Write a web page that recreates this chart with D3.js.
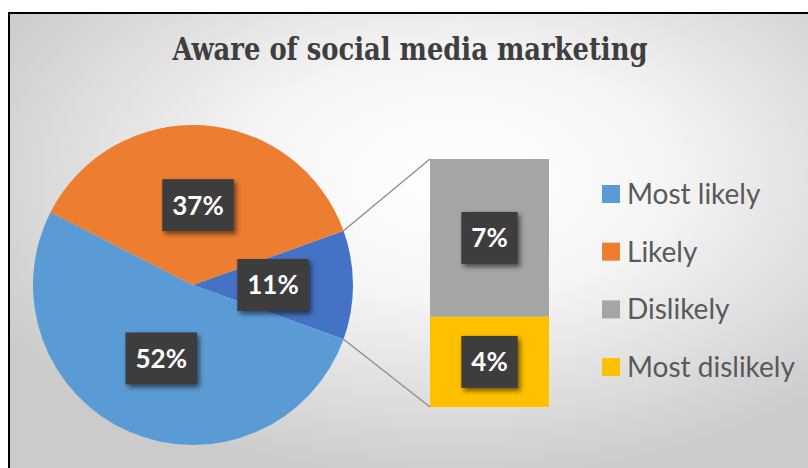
<!DOCTYPE html>
<html>
<head>
<meta charset="utf-8">
<script src="https://cdn.jsdelivr.net/npm/d3@7/dist/d3.min.js"></script>
<style>
  html, body { margin: 0; padding: 0; background: #fff; }
  svg { display: block; }
</style>
</head>
<body>
<svg id="chart" width="808" height="468"></svg>
<script>
// Pie slices (the "Other" slice is broken out into the stacked bar)
const pieLabels = ["Other", "Most likely", "Likely"];
const pieValues = [11, 52, 37];
const pieColors = ["#4472c4", "#5b9bd5", "#ed7d31"];

// Breakdown of "Other" shown as a stacked bar (top to bottom)
const barLabels = ["Dislikely", "Most dislikely"];
const barValues = [7, 4];
const barColors = ["#a5a5a5", "#ffc000"];

// Legend entries
const legendLabels = ["Most likely", "Likely", "Dislikely", "Most dislikely"];
const legendColors = ["#5b9bd5", "#ed7d31", "#a5a5a5", "#ffc000"];

const title = "Aware of social media marketing";

const svg = d3.select("#chart");
const defs = svg.append("defs");

// Soft radial backdrop
const bg = defs.append("radialGradient").attr("id", "bgGrad")
  .attr("cx", "0.55").attr("cy", "0.35").attr("r", "0.65");
bg.append("stop").attr("offset", "0").attr("stop-color", "#ffffff");
bg.append("stop").attr("offset", "0.4").attr("stop-color", "#f5f5f5");
bg.append("stop").attr("offset", "1").attr("stop-color", "#cbcbcb");

const shadow = defs.append("filter").attr("id", "shadow")
  .attr("x", "-30%").attr("y", "-30%").attr("width", "170%").attr("height", "170%");
shadow.append("feDropShadow").attr("dx", 2.5).attr("dy", 3).attr("stdDeviation", 2.5)
  .attr("flood-color", "#000").attr("flood-opacity", 0.55);

svg.append("rect").attr("x", 9).attr("y", 13).attr("width", 810).attr("height", 470)
  .attr("fill", "url(#bgGrad)").attr("stroke", "#000").attr("stroke-width", 2);

svg.append("text")
  .attr("x", 410).attr("y", 60)
  .attr("text-anchor", "middle")
  .attr("font-family", "'DejaVu Serif', serif")
  .attr("font-stretch", "condensed")
  .attr("font-weight", "bold")
  .attr("font-size", 32)
  .attr("textLength", 475).attr("lengthAdjust", "spacingAndGlyphs")
  .attr("fill", "#3f3f3f")
  .text(title);

// ---- Pie ----
const cx = 193, cy = 285, R = 160;
const total = d3.sum(pieValues);
const otherFrac = pieValues[0] / total;
const pie = d3.pie().sort(null).value(d => d)
  .startAngle(Math.PI / 2 - otherFrac * Math.PI)
  .endAngle(Math.PI / 2 - otherFrac * Math.PI + 2 * Math.PI);
const arcs = pie(pieValues);
const arc = d3.arc().innerRadius(0).outerRadius(R);

const gPie = svg.append("g").attr("transform", `translate(${cx},${cy})`);
gPie.selectAll("path").data(arcs).join("path")
  .attr("d", arc)
  .attr("fill", (d, i) => pieColors[i]);

// ---- Stacked bar ----
const barX = 430, barW = 119;
const barTotal = d3.sum(barValues);
const y = d3.scaleLinear().domain([0, barTotal]).range([407, 159]);
const stacked = [];
let acc = barTotal;
barValues.forEach((v, i) => { stacked.push({ top: acc, bottom: acc - v, i }); acc -= v; });

svg.append("g").selectAll("rect").data(stacked).join("rect")
  .attr("x", barX).attr("width", barW)
  .attr("y", d => y(d.top)).attr("height", d => y(d.bottom) - y(d.top))
  .attr("fill", d => barColors[d.i]);

// Connector lines from the "Other" slice edges to the bar
const o = arcs[0];
const edgePt = a => [cx + R * Math.sin(a), cy - R * Math.cos(a)];
const p1 = edgePt(o.startAngle), p2 = edgePt(o.endAngle);
svg.append("line").attr("x1", p1[0]).attr("y1", p1[1]).attr("x2", barX).attr("y2", y(barTotal))
  .attr("stroke", "#8c8c8c").attr("stroke-width", 1.3);
svg.append("line").attr("x1", p2[0]).attr("y1", p2[1]).attr("x2", barX).attr("y2", y(0))
  .attr("stroke", "#8c8c8c").attr("stroke-width", 1.3);

// ---- Data labels ----
function label(x, yy, txt) {
  const g = svg.append("g").attr("transform", `translate(${x},${yy})`);
  const t = g.append("text")
    .attr("text-anchor", "middle").attr("dy", "0.36em")
    .attr("font-family", "Lato, 'Open Sans', sans-serif")
    .attr("font-weight", "bold").attr("font-size", 26)
    .attr("fill", "#ffffff").text(txt);
  const w = t.node().getComputedTextLength() + 20;
  g.insert("rect", "text")
    .attr("x", -w / 2).attr("y", -26).attr("width", w).attr("height", 52)
    .attr("fill", "#3d3d3d").attr("filter", "url(#shadow)");
}
arcs.forEach((d, i) => {
  const c = arc.centroid(d);
  label(cx + c[0], cy + c[1], pieValues[i] + "%");
});
stacked.forEach(d => {
  label(barX + barW / 2, (y(d.top) + y(d.bottom)) / 2, barValues[d.i] + "%");
});

// ---- Legend ----
const legend = svg.append("g");
legendLabels.forEach((name, i) => {
  const ly = 194 + i * 57.7;
  legend.append("rect").attr("x", 602).attr("y", ly - 9).attr("width", 18).attr("height", 18)
    .attr("fill", legendColors[i]);
  legend.append("text").attr("x", 627).attr("y", ly).attr("dy", "0.35em")
    .attr("font-family", "Lato, 'Open Sans', sans-serif")
    .attr("font-size", 28).attr("fill", "#595959")
    .text(name);
});
</script>
</body>
</html>
